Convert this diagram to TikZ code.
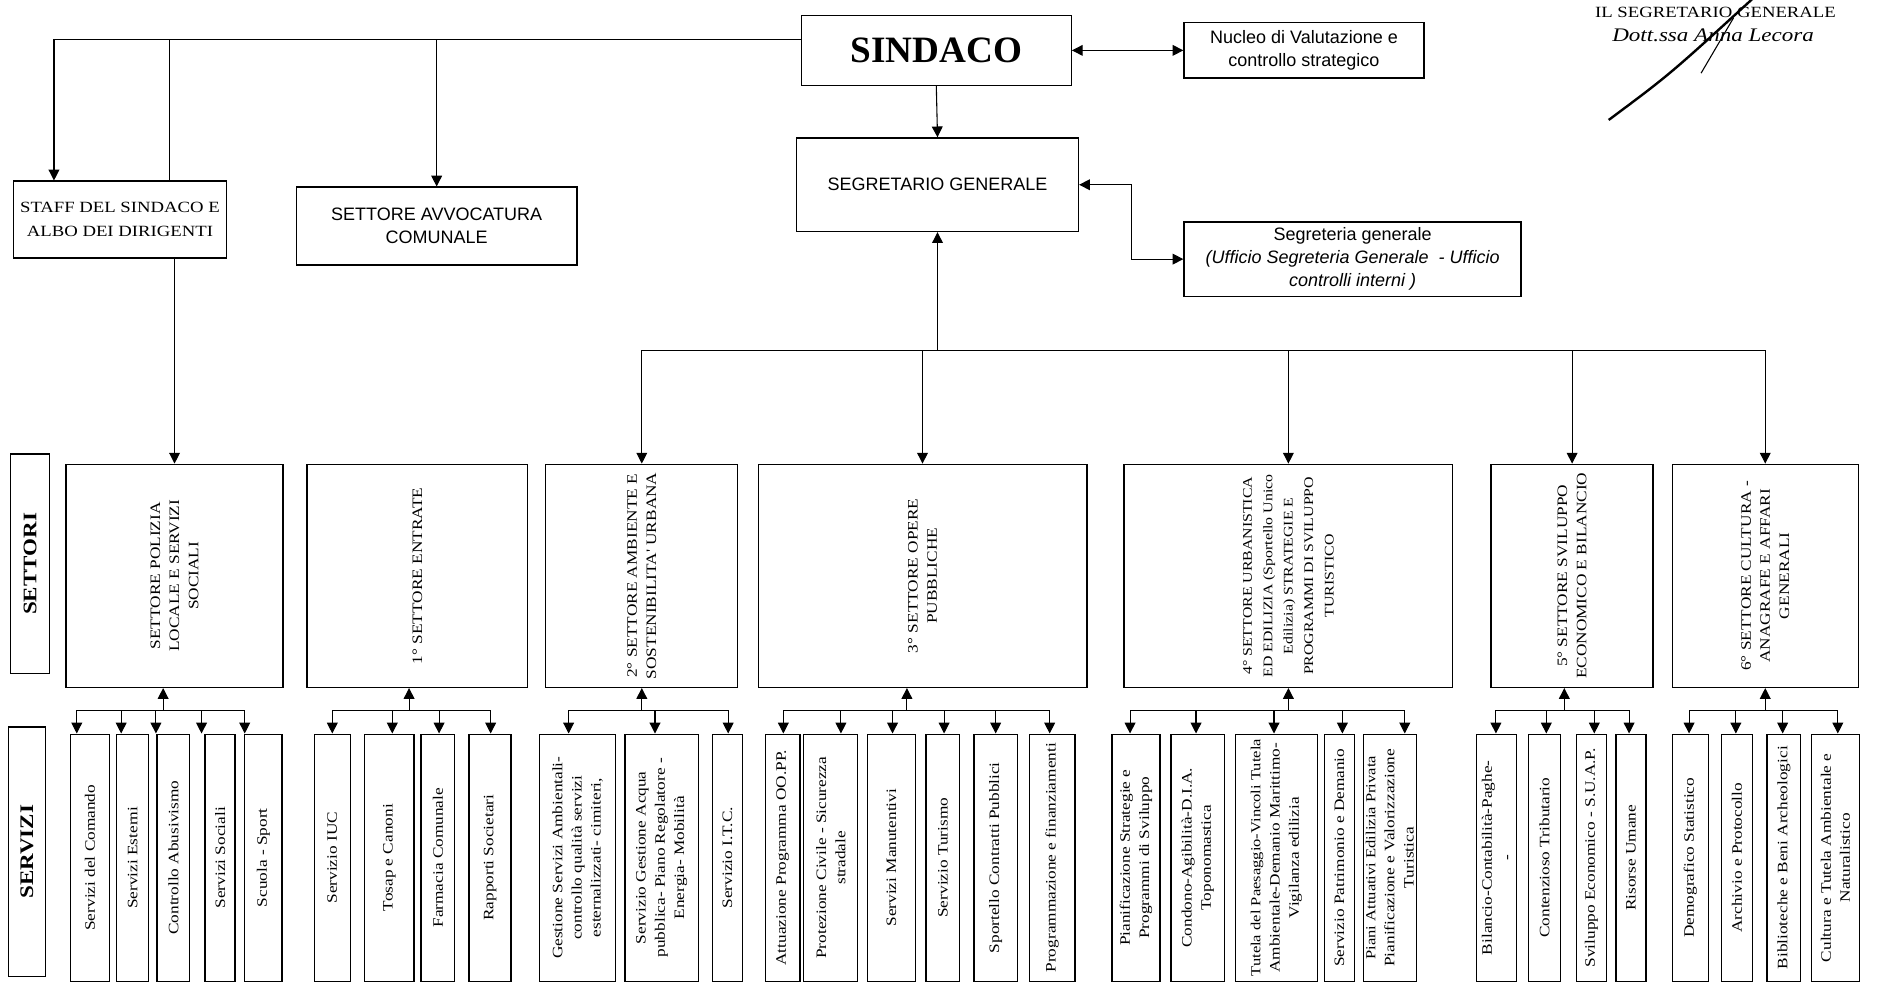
\documentclass[tikz,border=0pt]{standalone}
\usepackage{fontspec}
\setmainfont{Liberation Serif}
\setsansfont{Liberation Sans}
\newfontfamily\scanserif[FakeStretch=1.2]{Liberation Serif}
\usetikzlibrary{arrows.meta, positioning}
\tikzstyle{box} = [rectangle, draw=black, line width=1.1pt, align=center, inner sep=2pt]
\tikzstyle{topbox} = [box, font=\sffamily\fontsize{15}{19}\selectfont]
\tikzstyle{settore} = [box, rotate=90, minimum width=186pt, font=\scanserif\fontsize{12}{16}\selectfont]
\tikzstyle{servizio} = [box, rotate=90, minimum width=206pt, font=\scanserif\fontsize{12}{16}\selectfont]
\tikzstyle{arrow} = [line width=0.9pt, -{Triangle[length=9pt,width=9pt]}]
\tikzstyle{dblarrow} = [line width=0.9pt, {Triangle[length=9pt,width=9pt]}-{Triangle[length=9pt,width=9pt]}]
\tikzstyle{line} = [line width=0.9pt]

\begin{document}
\begin{tikzpicture}[x=1pt,y=-1pt]
\useasboundingbox (0,0) rectangle (1568,824);

% vertice
\node (sindaco) [box, minimum width=225pt, minimum height=58pt, font=\bfseries\fontsize{31}{31}\selectfont] at (780.5,42) {SINDACO};
\node (nucleo) [topbox, minimum width=200pt, minimum height=46pt] at (1087,42) {Nucleo di Valutazione e\\controllo strategico};
\node (segretario) [topbox, minimum width=235pt, minimum height=78pt] at (781.5,154) {SEGRETARIO GENERALE};
\node (segreteria) [topbox, minimum width=281pt, minimum height=62pt] at (1127.5,216) {Segreteria generale\\\textit{(Ufficio Segreteria Generale \ - Ufficio}\\\textit{controlli interni )}};
\node (staff) [box, minimum width=178pt, minimum height=64pt, font=\scanserif\fontsize{13}{20}\selectfont] at (100,183) {STAFF DEL SINDACO E\\ALBO DEI DIRIGENTI};
\node (avvocatura) [topbox, minimum width=234pt, minimum height=65pt] at (364,188.5) {SETTORE AVVOCATURA\\COMUNALE};

% firma
\node (firmatitolo) [anchor=base, font=\scanserif\fontsize{13}{13}\selectfont] at (1430,15) {IL SEGRETARIO GENERALE};
\node (firmanome) [anchor=base, font=\scanserif\itshape\fontsize{16}{16}\selectfont] at (1428,35) {Dott.ssa Anna Lecora};
\draw[line width=2pt] (1341,100) .. controls (1392,62) .. (1462,-2);
\draw[line width=0.9pt] (1418,61) -- (1445,15);

\draw[arrow] ([yshift=9pt]sindaco.west) -| (45,0 |- staff.north);
\draw[line] (141,33) -- (141,0 |- staff.north);
\draw[arrow] (avvocatura.north |- 0,33) -- (avvocatura.north);
\draw[dblarrow] (sindaco.east) -- (nucleo.west);
\draw[arrow] (sindaco.south) -- (segretario.north);
\draw[dblarrow] (segretario.east) -- ++(44,0) |- (segreteria.west);

% settori (ruotati: east = alto, west = basso)
\node (lblsettori) [box, rotate=90, minimum width=183pt, minimum height=32pt, font=\scanserif\bfseries\fontsize{16}{16}\selectfont] at (25,470) {SETTORI};
\node (polizia) [settore, minimum height=181pt] at (145.5,480) {SETTORE POLIZIA\\LOCALE E SERVIZI\\SOCIALI};
\node (entrate) [settore, minimum height=184pt] at (348,480) {1° SETTORE ENTRATE};
\node (ambiente) [settore, minimum height=160pt] at (535,480) {2° SETTORE AMBIENTE E\\SOSTENIBILITA' URBANA};
\node (opere) [settore, minimum height=274pt] at (769,480) {3° SETTORE OPERE\\PUBBLICHE};
\node (urbanistica) [settore, minimum height=274pt, font=\scanserif\fontsize{11}{17}\selectfont] at (1074,480) {4° SETTORE URBANISTICA\\ED EDILIZIA (Sportello Unico\\Edilizia) STRATEGIE E\\PROGRAMMI DI SVILUPPO\\TURISTICO};
\node (sviluppo) [settore, minimum height=135pt] at (1310.5,480) {5° SETTORE SVILUPPO\\ECONOMICO E BILANCIO};
\node (cultura) [settore, minimum height=155pt] at (1471.5,480) {6° SETTORE CULTURA -\\ANAGRAFE E AFFARI\\GENERALI};

\draw[arrow] (polizia.east |- staff.south) -- (polizia.east);
\draw[arrow] (segretario.south |- 0,292) -- (segretario.south);
\draw[line] (ambiente.east |- 0,292) -- (cultura.east |- 0,292);
\foreach \s in {ambiente, opere, urbanistica, sviluppo, cultura}
  \draw[arrow] (\s.east |- 0,292) -- (\s.east);

% servizi
\node (lblservizi) [box, rotate=90, minimum width=208pt, minimum height=31pt, font=\scanserif\bfseries\fontsize{16}{16}\selectfont] at (22.5,710) {SERVIZI};

\draw[line] (64,592) -- (204,592);
\draw[arrow] (136,592) -- (136,0 |- polizia.west);
\draw[line] (277,592) -- (409,592);
\draw[arrow] (341,592) -- (341,0 |- entrate.west);
\draw[line] (474,592) -- (607,592);
\draw[arrow] (ambiente.west |- 0,592) -- (ambiente.west);
\draw[line] (653,592) -- (875,592);
\draw[arrow] (756,592) -- (756,0 |- opere.west);
\draw[line] (942,592) -- (1171,592);
\draw[arrow] (urbanistica.west |- 0,592) -- (urbanistica.west);
\draw[line] (1247,592) -- (1358,592);
\draw[arrow] (1304,592) -- (1304,0 |- sviluppo.west);
\draw[line] (1408,592) -- (1532,592);
\draw[arrow] (cultura.west |- 0,592) -- (cultura.west);

\foreach \nm/\xl/\xr/\ax/\txt in {
  pol1/59/91/64/{Servizi del Comando},
  pol2/97/124/101/{Servizi Esterni},
  pol3/131/158/130/{Controllo Abusivismo},
  pol4/171/196/168/{Servizi Sociali},
  pol5/204/235/204/{Scuola - Sport},
  ent1/262/292/277/{Servizio IUC},
  ent2/304/345/327/{Tosap e Canoni},
  ent3/351/379/366/{Farmacia Comunale},
  ent4/391/426/409/{Rapporti Societari},
  amb1/450/513/474/{Gestione Servizi Ambientali-\\controllo qualità servizi\\esternalizzati- cimiteri,},
  amb2/521/582/546/{Servizio Gestione Acqua\\pubblica- Piano Regolatore -\\Energia- Mobilità},
  amb3/594/619/607/{Servizio I.T.C.},
  op1/638/667/653/{Attuazione Programma OO.PP.},
  op2/670/715/701/{Protezione Civile - Sicurezza\\stradale},
  op3/723/763/744/{Servizi Manutentivi},
  op4/772/800/787/{Servizio Turismo},
  op5/812/848/830/{Sportello Contratti Pubblici},
  op6/858/896/875/{Programmazione e finanziamenti},
  urb1/927/967/942/{Pianificazione Strategie e\\Programmi di Sviluppo},
  urb2/976/1021/997/{Condono-Agibilità-D.I.A.\\Toponomastica},
  urb3/1030/1098/1062/{\fontsize{11.5}{16}\selectfont Tutela del Paesaggio-Vincoli Tutela\\Ambientale-Demanio Marittimo-\\Vigilanza edilizia},
  urb4/1104/1129/1119/{Servizio Patrimonio e Demanio},
  urb5/1138/1179/1171/{\fontsize{11.5}{12.5}\selectfont Piani Attuativi Edilizia Privata\\Pianificazione e Valorizzazione\\Turistica},
  svi1/1231/1264/1247/{Bilancio-Contabilità-Paghe-\\-},
  svi2/1274/1301/1289/{Contenzioso Tributario},
  svi3/1314/1339/1329/{Sviluppo Economico - S.U.A.P.},
  svi4/1347/1372/1358/{Risorse Umane},
  cul1/1394/1424/1408/{Demografico Statistico},
  cul2/1435/1461/1447/{Archivio e Protocollo},
  cul3/1473/1501/1486/{Biblioteche e Beni Archeologici},
  cul4/1510/1550/1532/{Cultura e Tutela Ambientale e\\Naturalistico}}
{
  \node (\nm) [servizio, minimum height={(\xr-\xl)*1pt}] at ({(\xl+\xr)/2},715) {\txt};
  \draw[arrow] (\ax,592) -- (\ax,0 |- \nm.east);
}
\end{tikzpicture}
\end{document}
